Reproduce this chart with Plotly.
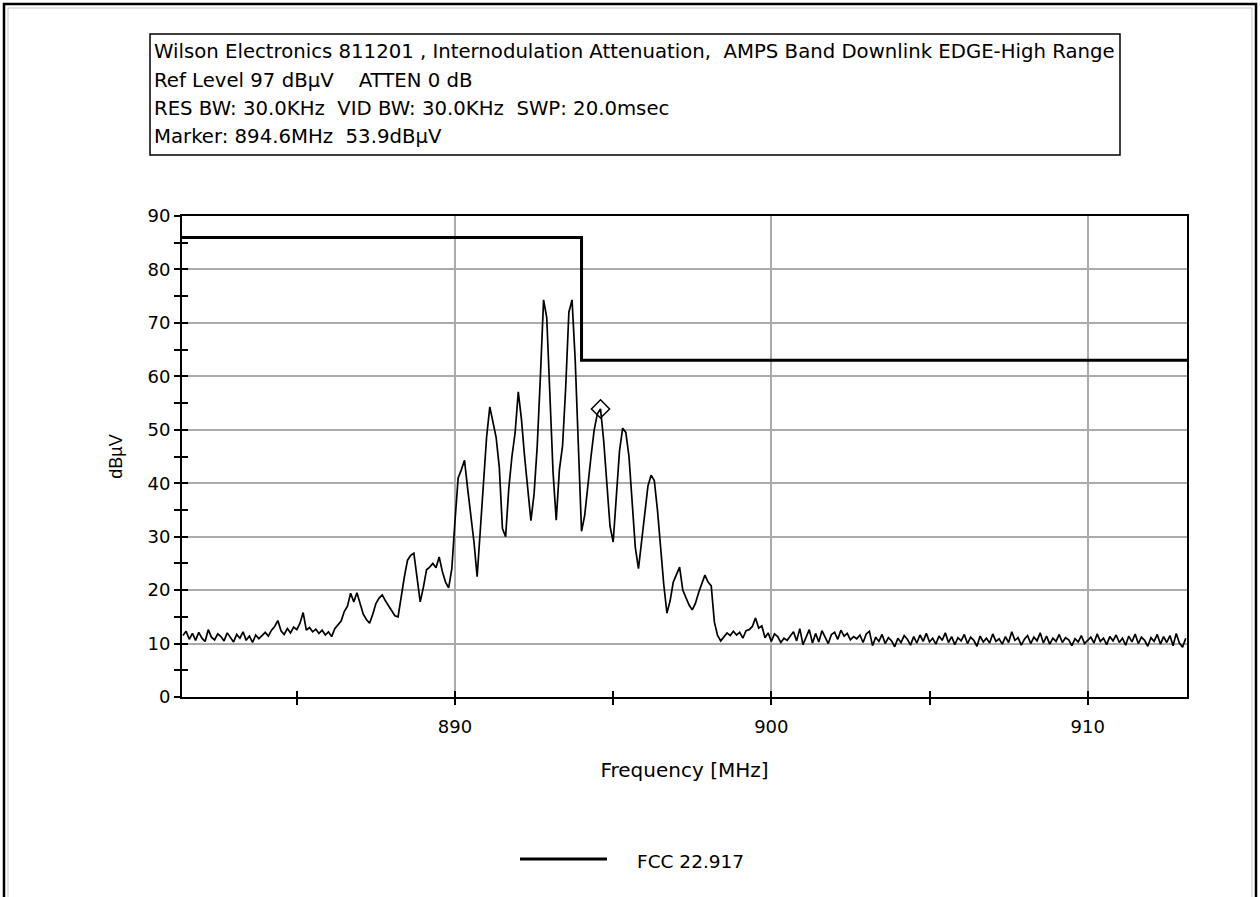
import numpy as np
import plotly.graph_objects as go

# ---------------- data ----------------
freq_start_mhz = 881.4
freq_step_mhz = 0.1
level_dbuv = [
    11.5, 12.3, 10.8, 11.9, 10.6, 12.1,                              # 881.4-881.9
    11.0, 10.4, 12.6, 11.2, 10.7, 11.8, 11.3, 10.5, 12.0, 11.1,      # 882
    10.3, 11.7, 11.0, 12.2, 10.6, 11.4, 10.2, 11.6, 10.9, 11.5,      # 883
    12.1, 11.4, 12.5, 13.2, 14.3, 12.4, 11.7, 12.8, 12.0, 13.1,      # 884
    12.6, 13.8, 15.8, 12.5, 13.0, 12.2, 12.7, 11.9, 12.5, 11.6,      # 885
    12.2, 11.3, 12.8, 13.5, 14.2, 16.0, 17.0, 19.4, 17.8, 19.5,      # 886
    17.5, 15.5, 14.5, 13.8, 15.5, 17.5, 18.5, 19.1, 18.0, 17.0,      # 887
    16.0, 15.2, 15.0, 19.0, 22.5, 25.6, 26.5, 26.9, 22.0, 17.8,      # 888
    20.5, 23.8, 24.3, 25.0, 24.2, 26.2, 23.5, 21.5, 20.4, 24.0,      # 889
    33.0, 41.0, 42.5, 44.3, 39.0, 34.5, 29.0, 22.5, 32.0, 41.2,      # 890
    48.7, 54.3, 51.5, 48.6, 43.0, 31.5, 30.0, 39.0, 45.0, 49.4,      # 891
    57.1, 52.0, 45.0, 39.3, 33.0, 38.0, 47.0, 60.0, 74.3, 71.0,      # 892
    55.0, 42.0, 33.1, 42.5, 47.0, 58.0, 72.0, 74.3, 63.0, 48.0,      # 893
    31.0, 34.0, 40.0, 45.0, 50.0, 53.0, 53.9, 48.0, 40.0, 32.0,      # 894
    29.0, 37.0, 46.0, 50.3, 49.5, 45.0, 36.0, 28.0, 24.0, 29.0,      # 895
    35.0, 39.5, 41.5, 40.5, 35.0, 28.0, 21.0, 15.7, 18.0, 21.5,      # 896
    23.0, 24.3, 20.0, 18.5, 17.2, 16.3, 17.5, 19.5, 21.0, 22.8,      # 897
    21.5, 20.8, 14.0, 11.5, 10.5, 11.2, 12.0, 11.5, 12.3, 11.6,      # 898
    12.1, 11.0, 12.4, 12.6, 13.2, 14.8, 12.9, 13.3, 11.1, 12.0,      # 899
    10.4, 11.8, 11.3, 10.2, 11.0, 10.6, 11.5, 12.2, 10.5, 12.8,      # 900
    9.8, 11.4, 12.6, 10.1, 11.9, 10.3, 12.4, 11.2, 10.0, 11.7,       # 901
    12.1, 10.8, 12.5, 11.4, 11.9, 10.7, 11.3, 10.9, 11.6, 10.2,      # 902
    11.8, 12.3, 9.6, 11.2, 10.4, 11.7, 10.0, 11.1, 10.5, 9.4,        # 903
    11.0, 10.2, 11.5, 10.8, 9.7, 11.3, 10.1, 11.6, 10.4, 11.9,       # 904
    10.3, 11.0, 9.9, 11.4, 10.6, 12.0, 10.2, 11.3, 9.8, 11.1,        # 905
    10.5, 11.7, 10.0, 11.2, 10.6, 9.5, 11.4, 10.3, 11.0, 10.1,       # 906
    11.8, 10.4, 10.9, 9.9, 11.3, 10.2, 12.2, 10.6, 11.1, 9.7,        # 907
    10.8, 11.5, 10.0, 11.2, 10.5, 12.0, 10.1, 11.4, 9.9, 11.0,       # 908
    10.4, 11.7, 10.2, 11.1, 10.7, 9.6, 10.9, 10.3, 11.5, 10.0,       # 909
    10.6, 11.2, 10.1, 11.8, 10.4, 11.0, 9.8, 11.3, 10.5, 11.6,       # 910
    10.2, 11.0, 9.7, 11.4, 10.3, 11.8, 10.0, 11.2, 10.6, 9.5,        # 911
    11.1, 10.4, 11.7, 9.9, 11.3, 10.2, 11.5, 9.6, 11.9, 10.1,        # 912
    9.3, 11.0,                                                       # 913.0-913.1
]

limit_freq_mhz = [881.37, 894.0, 894.0, 913.14]
limit_dbuv = [86, 86, 63, 63]
limit_name = "FCC 22.917"

marker_freq_mhz = [894.6]
marker_dbuv = [53.9]

x_range = [881.37, 913.14]
y_range = [0, 90]
x_major_ticks = [890, 900, 910]
x_minor_ticks = [885, 895, 905]

header_lines = [
    "Wilson Electronics 811201 , Internodulation Attenuation,  AMPS Band Downlink EDGE-High Range",
    "Ref Level 97 dBµV    ATTEN 0 dB",
    "RES BW: 30.0KHz  VID BW: 30.0KHz  SWP: 20.0msec",
    "Marker: 894.6MHz  53.9dBµV",
]

# ---------------- layout geometry (pixels) ----------------
W, H = 1260, 897
PL, PR, PT, PB = 182, 1187, 216, 697   # plot area edges


def px(x):
    return (x - PL) / (PR - PL)


def py(y):
    return (PB - y) / (PB - PT)


WIDE = "DejaVu Sans, Verdana, sans-serif"
NARROW = "Liberation Sans, Arial, sans-serif"

freqs = np.round(freq_start_mhz + freq_step_mhz * np.arange(len(level_dbuv)), 3)

fig = go.Figure()
fig.add_trace(go.Scatter(
    x=freqs, y=level_dbuv, mode="lines", name="Trace",
    line=dict(color="black", width=1.7), showlegend=False,
))
fig.add_trace(go.Scatter(
    x=limit_freq_mhz, y=limit_dbuv, mode="lines", name=limit_name,
    line=dict(color="black", width=3), showlegend=False,
))
fig.add_trace(go.Scatter(
    x=marker_freq_mhz, y=marker_dbuv, mode="markers", name="Marker",
    marker=dict(symbol="diamond-open", size=14, color="black", line=dict(width=1.5)),
    xaxis="x2", yaxis="y2", showlegend=False,
))

tick_common = dict(tickcolor="black", tickwidth=1.5, ticklen=6)

fig.update_layout(
    width=W, height=H, autosize=False,
    margin=dict(l=PL, r=W - PR, t=PT, b=H - PB, pad=0),
    paper_bgcolor="white", plot_bgcolor="white",
    font=dict(family=WIDE, size=18, color="black"),
    showlegend=False,
    xaxis=dict(
        range=x_range, tickmode="array", tickvals=x_major_ticks,
        ticks="outside", **tick_common,
        minor=dict(tickvals=x_minor_ticks, ticks="outside", ticklen=6,
                   tickwidth=1.5, tickcolor="black", showgrid=False),
        showgrid=True, gridcolor="#ababab", gridwidth=1.5,
        showline=True, linecolor="black", linewidth=2, mirror=True,
        zeroline=False,
        tickfont=dict(size=18, family=WIDE),
        ticklabelstandoff=6,
        title=dict(text="Frequency [MHz]", font=dict(size=20, family=WIDE), standoff=27),
    ),
    yaxis=dict(
        range=y_range, tickmode="linear", tick0=0, dtick=10,
        ticks="outside", **tick_common,
        minor=dict(dtick=5, tick0=0, ticks="outside", ticklen=6,
                   tickwidth=1.5, tickcolor="black", showgrid=False),
        showgrid=True, gridcolor="#ababab", gridwidth=1.5,
        showline=True, linecolor="black", linewidth=2, mirror=True,
        zeroline=False,
        tickfont=dict(size=18, family=WIDE),
        title=dict(text="dBµV", font=dict(size=18, family=NARROW), standoff=20),
    ),
    xaxis2=dict(
        overlaying="x", anchor="y", side="bottom", range=x_range,
        tickmode="array", tickvals=x_major_ticks, ticks="inside", **tick_common,
        minor=dict(tickvals=x_minor_ticks, ticks="inside", ticklen=6,
                   tickwidth=1.5, tickcolor="black", showgrid=False),
        showticklabels=False, showgrid=False, showline=False, zeroline=False,
    ),
    yaxis2=dict(
        overlaying="y", anchor="x", side="left", range=y_range,
        tickmode="linear", tick0=0, dtick=10, ticks="inside", **tick_common,
        minor=dict(dtick=5, tick0=0, ticks="inside", ticklen=6,
                   tickwidth=1.5, tickcolor="black", showgrid=False),
        showticklabels=False, showgrid=False, showline=False, zeroline=False,
    ),
)

shapes = []
# outer frame
shapes.append(dict(type="rect", xref="paper", yref="paper",
                   x0=px(4), x1=px(1256), y0=py(4), y1=py(905),
                   line=dict(color="black", width=2.5), fillcolor="rgba(0,0,0,0)", layer="above"))
shapes.append(dict(type="rect", xref="paper", yref="paper",
                   x0=px(8), x1=px(1252), y0=py(8), y1=py(905),
                   line=dict(color="#c8c8c8", width=1), fillcolor="rgba(0,0,0,0)", layer="above"))
# header box
shapes.append(dict(type="rect", xref="paper", yref="paper",
                   x0=px(150), x1=px(1120), y0=py(34), y1=py(155),
                   line=dict(color="black", width=1.5), fillcolor="white", layer="above"))
# legend sample line
shapes.append(dict(type="line", xref="paper", yref="paper",
                   x0=px(520), x1=px(607), y0=py(859), y1=py(859),
                   line=dict(color="black", width=3)))
fig.update_layout(shapes=shapes)

header_y = [51, 80, 108, 136]
annotations = []
for txt, yy in zip(header_lines, header_y):
    annotations.append(dict(
        text=txt, xref="paper", yref="paper", x=px(152), y=py(yy),
        xanchor="left", yanchor="middle", showarrow=False,
        font=dict(size=19.7, family=WIDE, color="black"),
    ))
annotations.append(dict(
    text=limit_name, xref="paper", yref="paper", x=px(635), y=py(861),
    xanchor="left", yanchor="middle", showarrow=False,
    font=dict(size=18.5, family=WIDE, color="black"),
))
fig.update_layout(annotations=annotations)

fig.write_html("out.html")
